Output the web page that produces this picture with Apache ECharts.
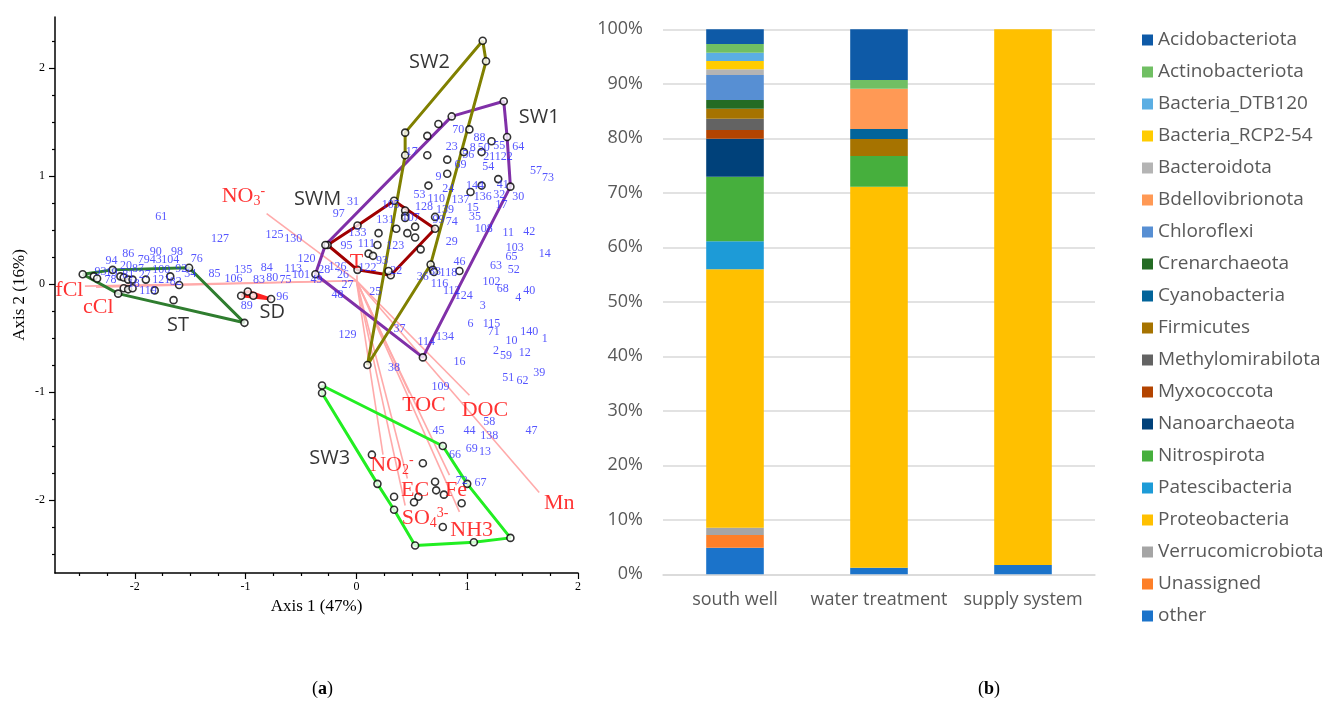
<!DOCTYPE html>
<html><head><meta charset="utf-8">
<script src="https://cdn.jsdelivr.net/npm/echarts@6/dist/echarts.min.js"></script>
<style>html,body{margin:0;padding:0;background:#fff}#c{width:1341px;height:707px}</style>
</head><body><div id="c"></div>
<script>
// ================= panel (a) data =================
const axisXRange = [-2.72, 2.0];
const axisYRange = [-2.675, 2.47];
const majorTicks = [-2, -1, 0, 1, 2];
const minorTicks = [-2.5,-2.25,-1.75,-1.5,-1.25,-0.75,-0.5,-0.25,0.25,0.5,0.75,1.25,1.5,1.75,2.25];

const stHull = [[-2.47,0.09],[-2.20,0.13],[-1.51,0.15],[-1.01,-0.36],[-2.15,-0.09]];
const stPts = [[-2.37,0.07],[-2.34,0.05],[-2.13,0.07],[-2.10,0.06],[-2.06,0.04],[-2.02,0.04],[-2.10,-0.04],[-2.06,-0.05],[-2.02,-0.04],[-1.90,0.04],[-1.82,-0.06],[-1.68,0.07],[-1.60,-0.01],[-1.65,-0.15]];
const sdHull = [[-1.04,-0.11],[-0.98,-0.07],[-0.77,-0.14]];
const sdPts = [[-0.93,-0.11]];
const swmHull = [[-0.26,0.36],[0.01,0.54],[0.34,0.77],[0.71,0.51],[0.31,0.08],[0.01,0.13]];
const swmPts = [[0.44,0.68],[0.44,0.63],[0.44,0.61],[0.36,0.51],[0.20,0.47],[0.46,0.47],[0.53,0.53],[0.53,0.43],[0.58,0.32],[0.19,0.36],[0.11,0.28],[0.15,0.26],[0.29,0.12],[0.71,0.62]];
const sw1Hull = [[0.86,1.55],[1.33,1.69],[1.36,1.36],[1.39,0.90],[0.60,-0.68],[-0.37,0.09],[-0.28,0.36]];
const sw1Pts = [[0.74,1.48],[0.64,1.37],[1.02,1.43],[1.22,1.32],[0.97,1.22],[1.13,1.22],[0.64,1.19],[0.82,1.15],[0.82,1.02],[0.65,0.91],[1.13,0.91],[1.28,0.97],[1.03,0.85]];
const sw2Hull = [[1.14,2.25],[1.17,2.06],[0.67,0.18],[0.10,-0.75],[0.44,1.19],[0.44,1.40]];
const sw2Pts = [[0.69,0.13],[0.70,0.11],[0.93,0.12]];
const sw3Hull = [[-0.31,-0.94],[0.78,-1.50],[1.00,-1.85],[1.39,-2.35],[1.06,-2.39],[0.53,-2.42],[0.34,-2.09],[0.19,-1.85],[-0.31,-1.01]];
const sw3Pts = [[0.14,-1.58],[0.60,-1.66],[0.71,-1.83],[0.72,-1.91],[0.79,-1.95],[0.34,-1.97],[0.56,-1.97],[0.52,-2.02],[0.95,-2.03],[0.78,-2.25]];

const groupNames = ['ST','SD','SWM','SW1','SW2','SW3'];
const groupLabelPos = [[-1.61,-0.38],[-0.76,-0.26],[-0.35,0.78],[1.65,1.54],[0.66,2.05],[-0.24,-1.61]];

const vectorOrigin = [0, 0.03];
const vectorNames = ['fCl','cCl','NO3-','T','TOC','DOC','Mn','NO2-','EC','Fe','SO43-','NH3'];
const vectorEnds = [[-2.45,-0.02],[-2.35,-0.03],[-0.81,0.65],[0.0,0.08],[0.48,-1.01],[1.02,-1.03],[1.65,-1.93],[0.24,-1.58],[0.46,-1.80],[0.84,-1.77],[0.44,-2.05],[0.93,-2.11]];
const vectorLabelPos = [[-2.59,-0.06],[-2.33,-0.22],[-1.02,0.81],[0.0,0.20],[0.61,-1.12],[1.16,-1.17],[1.83,-2.03],[0.32,-1.68],[0.53,-1.91],[0.90,-1.91],[0.62,-2.17],[1.04,-2.28]];

const numLabels = ['61','127','125','130','86','90','98','79','43','104','94','20','87','100','92','76','34','93','19','78','81','27','121','82','18','119','85','106','135','84','83','80','75','113','101','120','96','89',
 '31','97','133','131','95','111','123','126','26','28','49','27','48','122','93','22','25','37','129','110','53','128','139','99','74','107','105','29','46','118','33','36','116','112','124','114','134',
 '3','6','115','71','10','140','1','2','59','12','63','52','65','103','11','42','14','102','68','4','40','108','35','15','137','136','144','32','17','30','41','24','70','88','8','50','55','64','23','17','56','21','122','54','69','9','57','73',
 '16','38','109','51','62','39','58','45','44','138','47','69','13','66','72','67'];
const numPos = [[-1.76,0.62],[-1.23,0.42],[-0.74,0.45],[-0.57,0.42],[-2.06,0.28],[-1.81,0.30],[-1.62,0.30],[-1.92,0.22],[-1.81,0.22],[-1.68,0.22],[-2.21,0.21],[-2.08,0.17],[-1.97,0.14],[-1.76,0.13],[-1.58,0.14],[-1.44,0.23],[-1.50,0.09],[-2.31,0.11],[-2.21,0.10],[-2.22,0.04],[-2.06,0.08],[-1.91,0.08],[-1.76,0.04],[-1.63,0.02],[-2.01,0.00],[-1.88,-0.06],[-1.28,0.09],[-1.11,0.05],[-1.02,0.13],[-0.81,0.15],[-0.88,0.04],[-0.76,0.06],[-0.64,0.04],[-0.57,0.14],[-0.50,0.08],[-0.45,0.23],[-0.67,-0.12],[-0.99,-0.20],
 [-0.03,0.76],[-0.16,0.65],[0.01,0.47],[0.26,0.59],[-0.09,0.35],[0.09,0.37],[0.35,0.35],[-0.17,0.16],[-0.12,0.08],[-0.29,0.13],[-0.36,0.04],[-0.08,-0.01],[-0.17,-0.10],[0.10,0.15],[0.23,0.21],[0.36,0.12],[0.17,-0.07],[0.39,-0.42],[-0.08,-0.47],[0.72,0.79],[0.57,0.82],[0.61,0.71],[0.80,0.69],[0.74,0.59],[0.86,0.57],[0.49,0.61],[0.31,0.73],[0.86,0.39],[0.93,0.20],[0.83,0.10],[0.71,0.11],[0.60,0.07],[0.75,0.00],[0.86,-0.06],[0.97,-0.11],[0.63,-0.54],[0.80,-0.49],
 [1.14,-0.20],[1.03,-0.37],[1.22,-0.37],[1.24,-0.44],[1.40,-0.53],[1.56,-0.44],[1.70,-0.51],[1.26,-0.62],[1.35,-0.67],[1.52,-0.64],[1.26,0.17],[1.42,0.13],[1.40,0.25],[1.43,0.33],[1.37,0.47],[1.56,0.48],[1.70,0.28],[1.22,0.02],[1.32,-0.05],[1.46,-0.13],[1.56,-0.06],[1.15,0.51],[1.07,0.62],[1.05,0.70],[0.94,0.78],[1.14,0.81],[1.07,0.91],[1.29,0.82],[1.31,0.73],[1.46,0.81],[1.32,0.92],[0.83,0.88],[0.92,1.43],[1.11,1.35],[1.05,1.26],[1.15,1.26],[1.29,1.28],[1.46,1.27],[0.86,1.27],[0.50,1.22],[1.01,1.19],[1.20,1.18],[1.33,1.18],[1.19,1.08],[0.94,1.10],[0.74,0.99],[1.62,1.05],[1.73,0.98],
 [0.93,-0.72],[0.34,-0.78],[0.76,-0.95],[1.37,-0.87],[1.50,-0.90],[1.65,-0.82],[1.20,-1.28],[0.74,-1.36],[1.02,-1.36],[1.20,-1.41],[1.58,-1.36],[1.04,-1.53],[1.16,-1.55],[0.89,-1.58],[0.95,-1.82],[1.12,-1.84]];

// ================= panel (b) data =================
const categories = ['south well', 'water treatment', 'supply system'];
const phyla = ['Acidobacteriota','Actinobacteriota','Bacteria_DTB120','Bacteria_RCP2-54','Bacteroidota','Bdellovibrionota','Chloroflexi','Crenarchaeota','Cyanobacteria','Firmicutes','Methylomirabilota','Myxococcota','Nanoarchaeota','Nitrospirota','Patescibacteria','Proteobacteria','Verrucomicrobiota','Unassigned','other'];
const southWell = [2.7,1.6,1.52,1.52,1.06,0,4.57,1.6,0,1.83,2.08,1.59,6.98,11.85,5.14,47.41,1.34,2.33,4.88];
const waterTreatment = [9.3,1.6,0,0,0,7.4,0,0,1.83,3.12,0,0,0,5.63,0,69.92,0,0,1.2];
const supplySystem = [0,0,0,0,0,0,0,0,0,0,0,0,0,0,0,98.3,0,0,1.7];
const phylaColors = ['#0E5AA7','#70BF63','#5BAEE3','#FFCC00','#B4B4B4','#FF9955','#578FD3','#246B24','#02649A','#A67300','#636363','#B34400','#00417A','#46AF3D','#1D9BD7','#FFC000','#A5A5A5','#FD7F28','#1B73CA'];

// ================= build =================
const SERIF = '"Liberation Serif","DejaVu Serif",serif';
const SANS = '"Open Sans","Noto Sans",sans-serif';
const closed = h => h.concat([h[0]]);
const hulls = [stHull, sdHull, swmHull, sw1Hull, sw2Hull, sw3Hull];
const hullColors = ['#2F7D2F', '#FF2020', '#A00000', '#8030A8', '#808000', '#22EE22'];
const allPts = [].concat(stHull, stPts, sdHull, sdPts, swmHull, swmPts, sw1Hull, sw1Pts, sw2Hull, sw2Pts, sw3Hull, sw3Pts);

const rich = {
  m: {fontFamily: SERIF, fontSize: 22, color: '#FF0000', lineHeight: 24, verticalAlign: 'middle'},
  sb: {fontFamily: SERIF, fontSize: 14, color: '#FF0000', lineHeight: 24, verticalAlign: 'bottom'},
  sp: {fontFamily: SERIF, fontSize: 14, color: '#FF0000', lineHeight: 24, verticalAlign: 'top'}
};
function vecText(n) {
  if (n === 'NO3-') return '{m|NO}{sb|3}{sp|-}';
  if (n === 'NO2-') return '{m|NO}{sb|2}{sp|-}';
  if (n === 'SO43-') return '{m|SO}{sb|4}{sp|3-}';
  return '{m|' + n + '}';
}

const series = [];
series.push({
  type: 'lines', coordinateSystem: 'cartesian2d', xAxisIndex: 0, yAxisIndex: 0, z: 1, silent: true,
  lineStyle: {color: '#FFAAAA', width: 1.6, opacity: 1},
  data: vectorEnds.map(e => ({coords: [vectorOrigin, e]}))
});
hulls.forEach((h, i) => series.push({
  type: 'line', xAxisIndex: 0, yAxisIndex: 0, z: 2, data: closed(h), showSymbol: false, symbol: 'none',
  lineStyle: {color: hullColors[i], width: 3}, silent: true
}));
series.push({
  type: 'scatter', xAxisIndex: 0, yAxisIndex: 0, z: 3, data: allPts, symbol: 'circle', symbolSize: 7,
  itemStyle: {color: '#FFFFFF', borderColor: '#000000', borderWidth: 1.6}, silent: true
});
series.push({
  type: 'scatter', xAxisIndex: 0, yAxisIndex: 0, z: 4, symbolSize: 0, silent: true,
  data: numLabels.map((n, i) => ({name: n, value: numPos[i]})),
  label: {show: true, position: 'inside', formatter: '{b}', fontFamily: SERIF, fontSize: 12, color: '#2B2BFF'}
});
series.push({
  type: 'scatter', xAxisIndex: 0, yAxisIndex: 0, z: 5, symbolSize: 0, silent: true,
  data: vectorNames.map((n, i) => ({name: n, value: vectorLabelPos[i]})),
  label: {show: true, position: 'inside', formatter: p => vecText(p.name), rich: rich}
});
series.push({
  type: 'scatter', xAxisIndex: 0, yAxisIndex: 0, z: 5, symbolSize: 0, silent: true,
  data: groupNames.map((n, i) => ({name: n, value: groupLabelPos[i]})),
  label: {show: true, position: 'inside', formatter: '{b}', fontFamily: SANS, fontSize: 20, color: '#000'}
});
const sampleRows = [southWell, waterTreatment, supplySystem];
for (let k = phyla.length - 1; k >= 0; k--) {
  series.push({
    type: 'bar', name: phyla[k], xAxisIndex: 1, yAxisIndex: 2, stack: 'all', barWidth: '40%',
    itemStyle: {color: phylaColors[k]},
    data: sampleRows.map(r => r[k])
  });
}

const tickStyle = {color: '#000', width: 1.2};
const option = {
  animation: false,
  backgroundColor: '#fff',
  grid: [
    {left: 55, right: 763, top: 17, bottom: 134},
    {left: 663, right: 246, top: 29.3, bottom: 132.7}
  ],
  xAxis: [
    {type: 'value', gridIndex: 0, min: axisXRange[0], max: axisXRange[1], position: 'bottom',
     name: 'Axis 1 (47%)', nameLocation: 'middle', nameGap: 25,
     nameTextStyle: {fontFamily: SERIF, fontSize: 17, color: '#000'},
     axisLine: {onZero: false, lineStyle: {color: '#000', width: 1.5}},
     axisTick: {customValues: majorTicks, length: 6, lineStyle: tickStyle},
     axisLabel: {customValues: majorTicks, fontFamily: SERIF, fontSize: 12, color: '#000', margin: 8},
     splitLine: {show: false}},
    {type: 'category', gridIndex: 1, data: categories,
     axisLine: {show: true, lineStyle: {color: '#D9D9D9', width: 1.5}}, axisTick: {show: false},
     axisLabel: {interval: 0, fontFamily: SANS, fontSize: 18, color: '#595959', margin: 17}},
    {type: 'value', gridIndex: 0, min: axisXRange[0], max: axisXRange[1], position: 'bottom',
     axisLine: {show: false, onZero: false}, axisLabel: {show: false}, splitLine: {show: false},
     axisTick: {show: true, customValues: minorTicks, length: 3, lineStyle: tickStyle}}
  ],
  yAxis: [
    {type: 'value', gridIndex: 0, min: axisYRange[0], max: axisYRange[1], position: 'left',
     name: 'Axis 2 (16%)', nameLocation: 'middle', nameGap: 27,
     nameTextStyle: {fontFamily: SERIF, fontSize: 17, color: '#000'},
     axisLine: {onZero: false, lineStyle: {color: '#000', width: 1.5}},
     axisTick: {customValues: majorTicks, length: 6, lineStyle: tickStyle},
     axisLabel: {customValues: majorTicks, fontFamily: SERIF, fontSize: 12, color: '#000', margin: 10},
     splitLine: {show: false}},
    {type: 'value', gridIndex: 0, min: axisYRange[0], max: axisYRange[1], position: 'left',
     axisLine: {show: false, onZero: false}, axisLabel: {show: false}, splitLine: {show: false},
     axisTick: {show: true, customValues: minorTicks, length: 3, lineStyle: tickStyle}},
    {type: 'value', gridIndex: 1, min: 0, max: 100, interval: 10,
     axisLine: {show: false}, axisTick: {show: false},
     axisLabel: {formatter: '{value}%', fontFamily: SANS, fontSize: 18, color: '#595959', margin: 20},
     splitLine: {lineStyle: {color: '#D9D9D9', width: 1.5}}}
  ],
  legend: {
    data: phyla, orient: 'vertical', left: 1137, top: 25, itemWidth: 11, itemHeight: 11, itemGap: 12,
    icon: 'rect', selectedMode: false,
    textStyle: {fontFamily: SANS, fontSize: 19, color: '#595959', lineHeight: 20}
  },
  graphic: [
    {type: 'text', left: 312, top: 680, style: {text: '({b|a})', font: '18px ' + SERIF, fill: '#000',
      rich: {b: {fontWeight: 'bold', fontSize: 18, fontFamily: SERIF}}}},
    {type: 'text', left: 978, top: 680, style: {text: '({b|b})', font: '18px ' + SERIF, fill: '#000',
      rich: {b: {fontWeight: 'bold', fontSize: 18, fontFamily: SERIF}}}}
  ],
  series: series
};
const chart = echarts.init(document.getElementById('c'), null, {renderer: 'canvas'});
chart.setOption(option);
</script></body></html>
